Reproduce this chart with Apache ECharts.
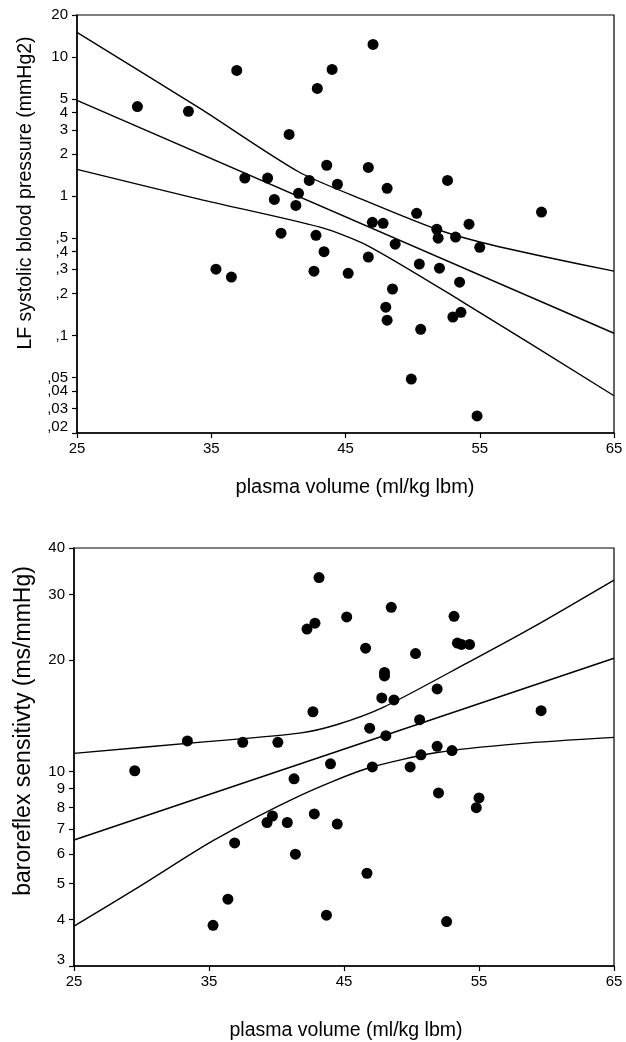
<!DOCTYPE html>
<html>
<head>
<meta charset="utf-8">
<script src="https://cdn.jsdelivr.net/npm/echarts@6/dist/echarts.min.js"></script>
<style>
html,body{margin:0;padding:0;background:#fff;}
#chart{width:626px;height:1042px;}
</style>
</head>
<body>
<div id="chart"></div>
<script>
// ---- Top panel: LF systolic blood pressure vs plasma volume ----
var topX = [29.5, 33.3, 36.9, 35.35, 36.5, 40.2, 42.8, 42.65, 37.5, 39.2, 39.7, 40.8, 41.3, 41.5, 42.3, 42.9, 47.05, 44.0, 43.6, 46.7, 44.4, 48.1, 52.6, 59.6, 50.3, 47.0, 47.8, 54.2, 51.8, 51.9, 53.2, 55.0, 43.4, 45.2, 46.7, 48.7, 50.5, 52.0, 53.5, 48.5, 48.0, 48.1, 50.6, 53.0, 53.6, 49.9, 54.8];
var topY = [4.4, 4.07, 8.0, 0.30, 0.263, 0.543, 0.525, 0.29, 1.35, 1.35, 0.95, 2.78, 0.86, 1.05, 1.30, 5.94, 12.3, 8.13, 1.67, 1.61, 1.22, 1.14, 1.30, 0.77, 0.755, 0.65, 0.64, 0.63, 0.58, 0.50, 0.51, 0.43, 0.40, 0.28, 0.366, 0.453, 0.326, 0.305, 0.242, 0.216, 0.16, 0.129, 0.111, 0.136, 0.147, 0.0488, 0.0265];
var topFitX = [25, 65];
var topFitY = [4.88, 0.104];
var topUpperX = [25, 34.16, 41.5, 46.6, 51.8, 55, 60, 65];
var topUpperY = [15.0, 4.27, 1.50, 0.92, 0.58, 0.47, 0.365, 0.29];
var topLowerX = [25, 34.16, 43.1, 46.6, 53.5, 65];
var topLowerY = [1.56, 0.95, 0.60, 0.445, 0.18, 0.037];
var topTicks = [20, 10, 5, 4, 3, 2, 1, 0.5, 0.4, 0.3, 0.2, 0.1, 0.05, 0.04, 0.03, 0.02];
var topTickLabels = ['20', '10', '5', '4', '3', '2', '1', ',5', ',4', ',3', ',2', ',1', ',05', ',04', ',03', ',02'];

// ---- Bottom panel: baroreflex sensitivity vs plasma volume ----
var botX = [43.15, 42.26, 42.85, 42.7, 33.4, 37.5, 40.1, 45.2, 48.5, 53.15, 46.6, 50.3, 53.4, 53.7, 54.3, 48.0, 48.0, 47.8, 48.7, 51.9, 59.6, 46.9, 48.1, 50.6, 51.9, 53.0, 50.7, 44.0, 47.1, 49.9, 52.0, 55.0, 54.8, 42.8, 44.5, 41.4, 46.7, 43.7, 52.6, 29.5, 41.3, 39.7, 39.3, 40.8, 36.9, 36.4, 35.3];
var botY = [33.3, 24.2, 25.1, 14.5, 12.1, 12.0, 12.0, 26.1, 27.7, 26.2, 21.5, 20.8, 22.2, 22.0, 22.0, 18.5, 18.1, 15.8, 15.6, 16.7, 14.6, 13.1, 12.5, 13.8, 11.7, 11.4, 11.1, 10.5, 10.3, 10.3, 8.77, 8.5, 8.0, 7.7, 7.23, 6.0, 5.33, 4.11, 3.95, 10.06, 9.57, 7.6, 7.3, 7.3, 6.43, 4.54, 3.86];
var botFitX = [25, 65];
var botFitY = [6.55, 20.2];
var botUpperX = [25, 34.85, 41.7, 44.5, 47.9, 54.1, 59.0, 65];
var botUpperY = [11.2, 12.05, 12.7, 13.4, 14.9, 19.6, 24.5, 32.8];
var botLowerX = [25, 29.9, 35.3, 41.7, 46.7, 51.9, 58, 65];
var botLowerY = [3.84, 4.92, 6.52, 8.61, 10.2, 11.26, 11.9, 12.37];
var botTicks = [40, 30, 20, 10, 9, 8, 7, 6, 5, 4, 3];
var botTickLabels = ['40', '30', '20', '10', '9', '8', '7', '6', '5', '4', '3'];

var xTicks = [25, 35, 45, 55, 65];
var xTitle = 'plasma volume (ml/kg lbm)';
var topYTitle = 'LF systolic blood pressure (mmHg2)';
var botYTitle = 'baroreflex sensitivty (ms/mmHg)';

function zip(a, b) { return a.map(function (v, i) { return [v, b[i]]; }); }
function labelFor(ticks, labels) {
  return function (v) {
    for (var i = 0; i < ticks.length; i++) {
      if (Math.abs(Math.log10(v) - Math.log10(ticks[i])) < 1e-6) {
        return i === ticks.length - 1 ? '{low|' + labels[i] + '}' : labels[i];
      }
    }
    return '';
  };
}

var FONT = '"Liberation Sans", Arial, Helvetica, sans-serif';
var BLACK = '#000';

function xAxisCfg(gridIndex) {
  return {
    type: 'value', gridIndex: gridIndex, min: 25, max: 65,
    axisLine: { show: true, onZero: false, lineStyle: { color: BLACK, width: 1.5 } },
    axisTick: { show: true, length: 5, customValues: xTicks, lineStyle: { color: BLACK, width: 1.2 } },
    axisLabel: { customValues: xTicks, margin: 8, color: BLACK, fontSize: 15, fontFamily: FONT },
    splitLine: { show: false }
  };
}
function yAxisCfg(gridIndex, min, max, ticks, labels) {
  return {
    type: 'log', logBase: 10, gridIndex: gridIndex, min: min, max: max,
    axisLine: { show: true, lineStyle: { color: BLACK, width: 1.5 } },
    axisTick: { show: true, length: 5, customValues: ticks, lineStyle: { color: BLACK, width: 1.2 } },
    axisLabel: {
      customValues: ticks, margin: 9, color: BLACK, fontSize: 15, fontFamily: FONT,
      formatter: labelFor(ticks, labels),
      rich: { low: { fontSize: 15, fontFamily: FONT, color: BLACK, padding: [0, 0, 12, 0] } }
    },
    splitLine: { show: false },
    minorTick: { show: false }, minorSplitLine: { show: false }
  };
}
function lineSeries(x, y, smooth, xi) {
  return {
    type: 'line', xAxisIndex: xi, yAxisIndex: xi, data: zip(x, y),
    smooth: smooth,
    showSymbol: false, symbol: 'none', silent: true,
    lineStyle: { color: BLACK, width: 1.4, join: 'round' }
  };
}
function scatterSeries(x, y, xi) {
  return {
    type: 'scatter', xAxisIndex: xi, yAxisIndex: xi, data: zip(x, y),
    symbol: 'circle', symbolSize: 11, itemStyle: { color: BLACK, opacity: 1 }, z: 5
  };
}
function titleText(text, x, y, size, rot) {
  return {
    type: 'text', x: x, y: y, rotation: rot || 0,
    style: {
      text: text, fill: BLACK, font: size + 'px ' + FONT,
      textAlign: 'center', textVerticalAlign: 'middle', align: 'center', verticalAlign: 'middle'
    }
  };
}

var chart = echarts.init(document.getElementById('chart'), null, { renderer: 'canvas' });
chart.setOption({
  animation: false,
  backgroundColor: '#fff',
  grid: [
    { left: 77, top: 15, width: 537, height: 418, show: true, borderColor: BLACK, borderWidth: 1.2, backgroundColor: 'transparent', containLabel: false, outerBoundsMode: 'none' },
    { left: 74, top: 548, width: 540, height: 418, show: true, borderColor: BLACK, borderWidth: 1.2, backgroundColor: 'transparent', containLabel: false, outerBoundsMode: 'none' }
  ],
  xAxis: [xAxisCfg(0), xAxisCfg(1)],
  yAxis: [
    yAxisCfg(0, 0.02, 20, topTicks, topTickLabels),
    yAxisCfg(1, 3, 40, botTicks, botTickLabels)
  ],
  series: [
    lineSeries(topFitX, topFitY, false, 0),
    lineSeries(topUpperX, topUpperY, 0.25, 0),
    lineSeries(topLowerX, topLowerY, 0.25, 0),
    scatterSeries(topX, topY, 0),
    lineSeries(botFitX, botFitY, false, 1),
    lineSeries(botUpperX, botUpperY, 0.25, 1),
    lineSeries(botLowerX, botLowerY, 0.25, 1),
    scatterSeries(botX, botY, 1)
  ],
  graphic: [
    titleText(xTitle, 355, 487, 20, 0),
    titleText(xTitle, 346, 1031, 19.5, 0),
    titleText(topYTitle, 26, 193, 19.5, Math.PI / 2),
    titleText(botYTitle, 24, 731, 23, Math.PI / 2)
  ]
});
</script>
</body>
</html>
